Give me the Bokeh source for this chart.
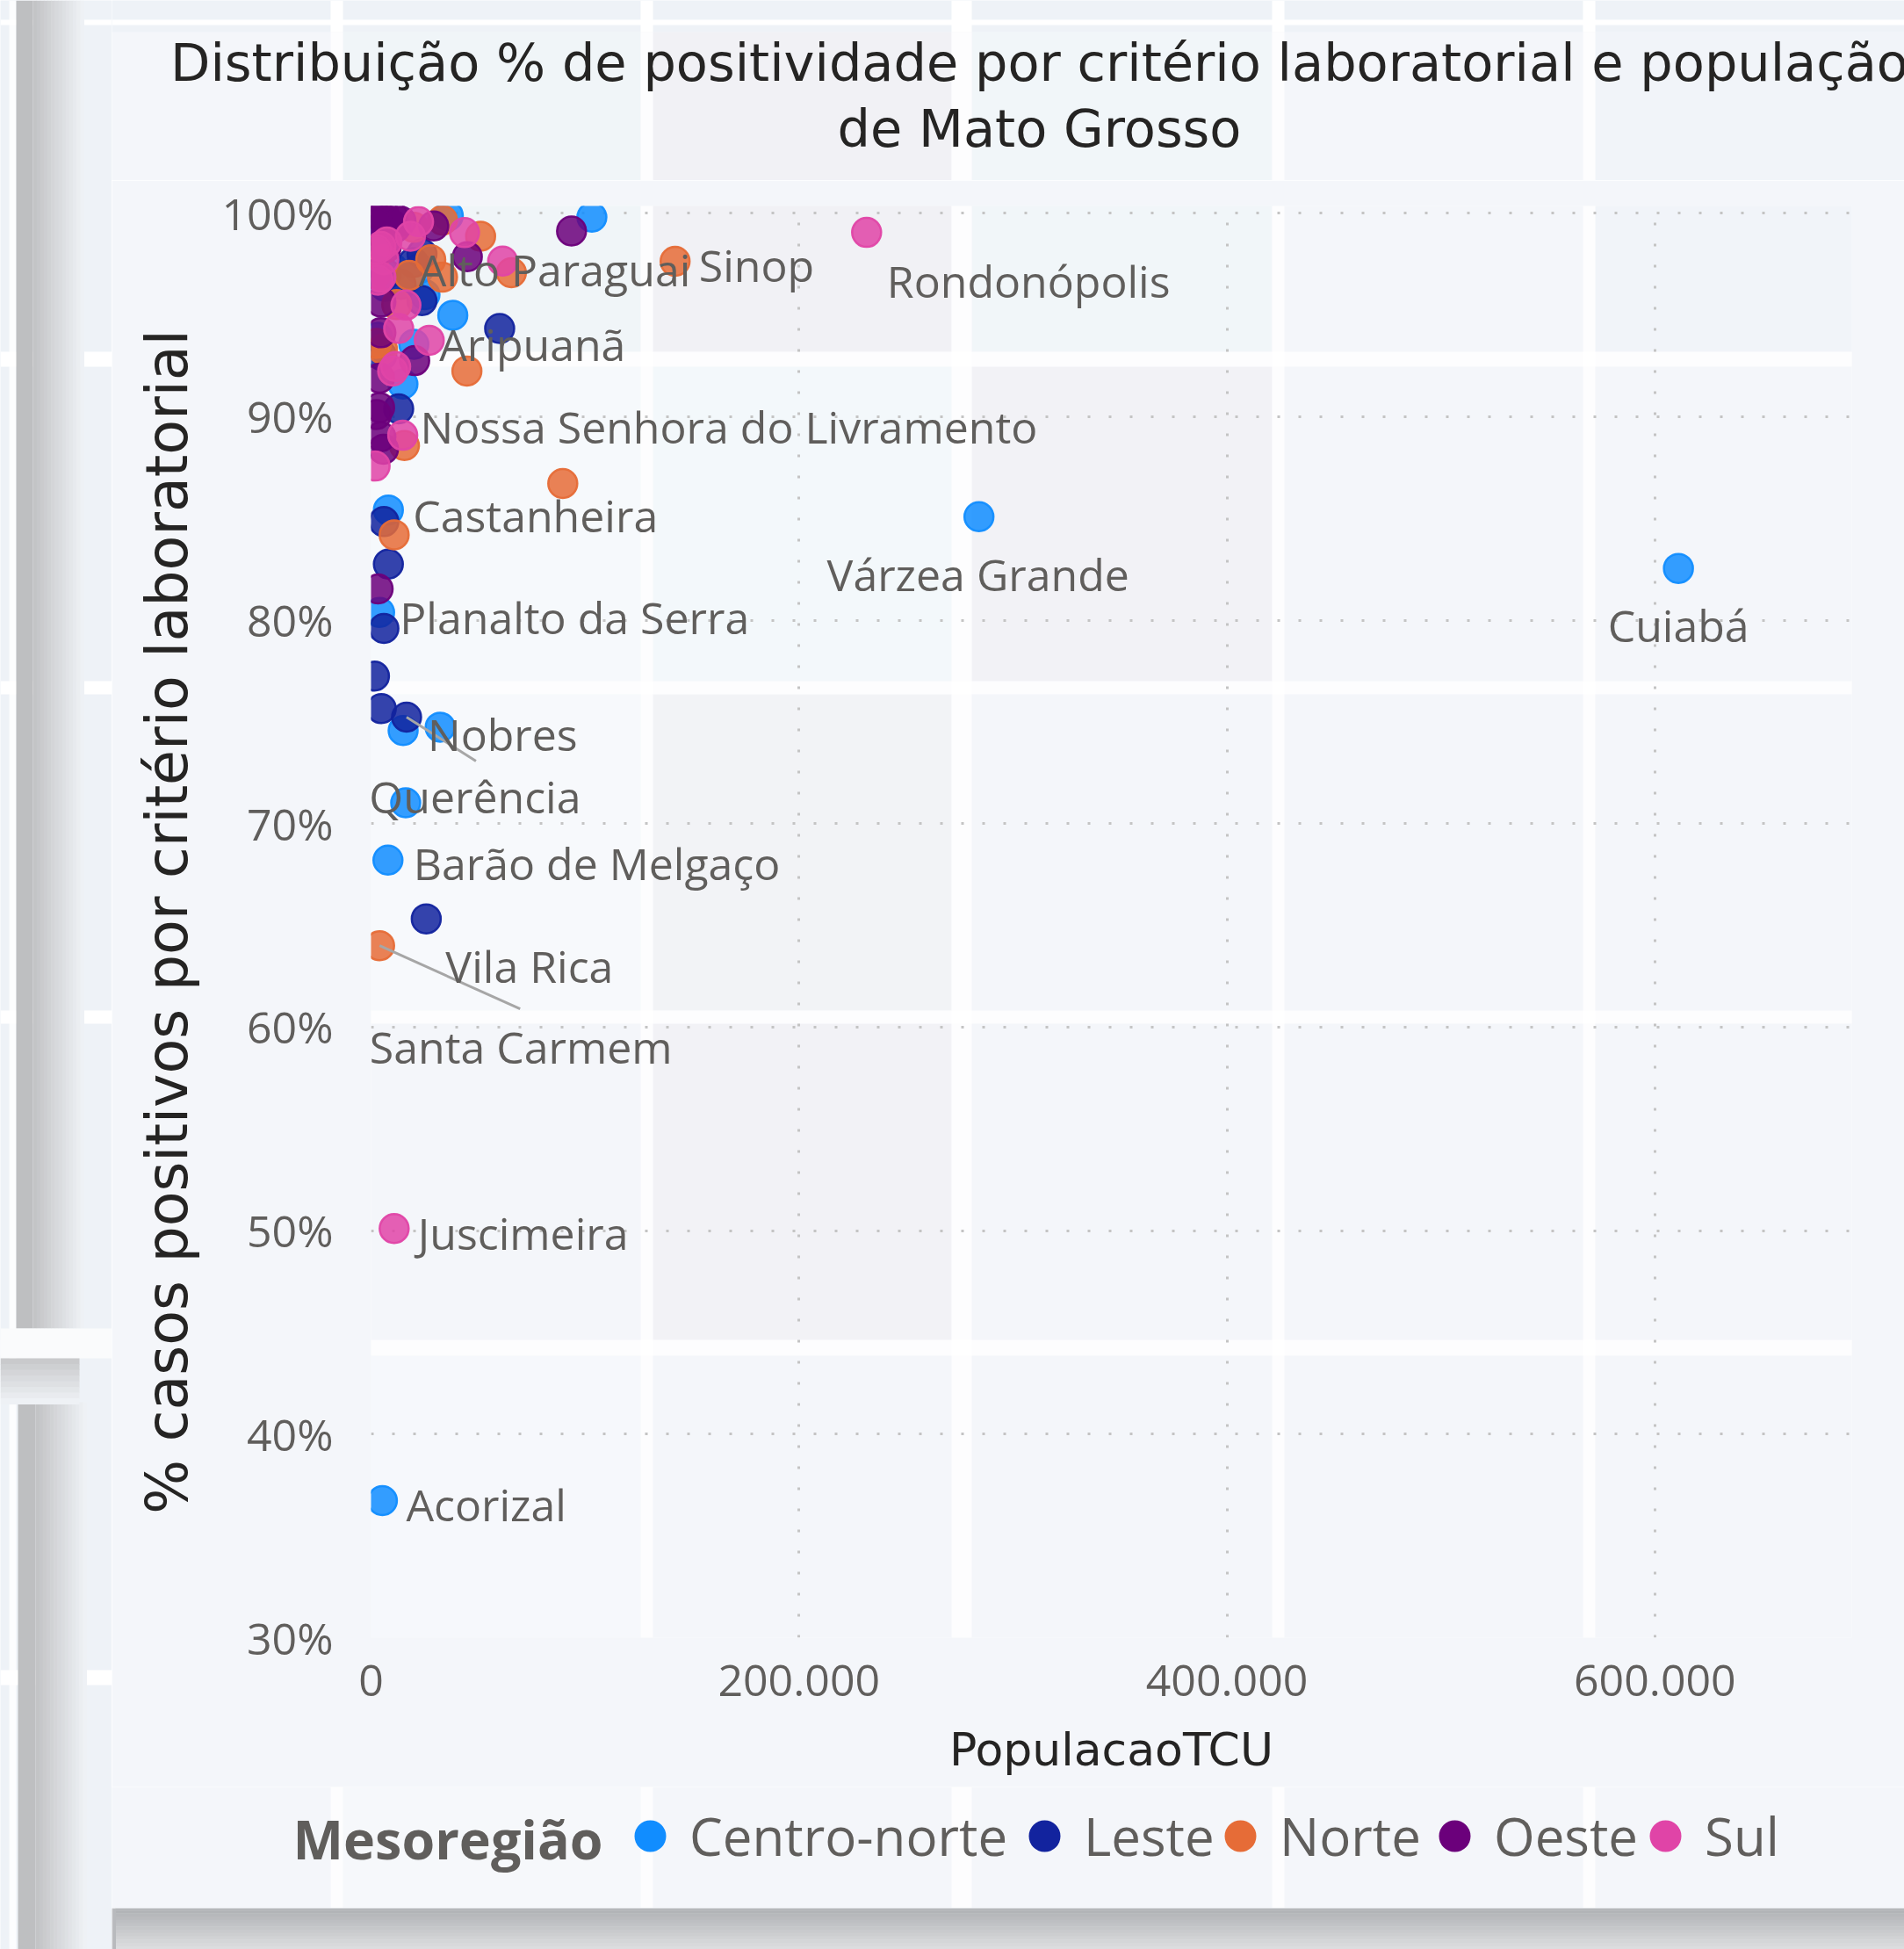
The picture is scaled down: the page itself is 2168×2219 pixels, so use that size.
from bokeh.plotting import figure
from bokeh.layouts import row, column
from bokeh.models import (Range1d, FixedTicker, PrintfTickFormatter, CustomJSTickFormatter,
                          ColumnDataSource, Legend, LegendItem, Label, BoxAnnotation)
from bokeh.core.properties import value
from bokeh.embed import file_html
from bokeh.resources import INLINE

# ---------------- data ----------------
regioes = ["Centro-norte", "Leste", "Norte", "Oeste", "Sul"]
cores = ["#118DFF", "#12239E", "#E66C37", "#6B007B", "#E044A7"]

cn_nome = ["Cuiabá", "Várzea Grande", "", "", "Alto Paraguai", "", "", "", "Aripuanã", "",
           "Castanheira", "Planalto da Serra", "Nobres", "", "", "Barão de Melgaço", "Acorizal",
           "", "", "", "", ""]
cn_pop = [611000, 284100, 103200, 36100, 10000, 22500, 25200, 38200, 20000, 14900,
          8100, 4000, 15000, 32300, 16200, 7900, 5300,
          2000, 6500, 3000, 9000, 18000]
cn_pct = [82.54, 85.08, 99.80, 99.87, 97.30, 97.28, 95.99, 94.98, 93.55, 91.60,
          85.41, 80.38, 74.57, 74.74, 71.02, 68.21, 36.73,
          98.6, 96.4, 93.9, 99.5, 96.8]

le_nome = ["", "", "", "", "", "", "", "", "", "", "Querência", "Vila Rica", "", "", "", ""]
le_pop = [23800, 19700, 23800, 60100, 12900, 6000, 8100, 6000, 1600, 4800, 16600, 25800,
          3000, 7000, 5000, 14000]
le_pct = [98.00, 97.57, 95.70, 94.33, 90.38, 84.84, 82.75, 79.59, 77.25, 75.65, 75.23, 65.32,
          99.2, 97.0, 93.0, 96.5]

no_nome = ["Sinop", "", "", "", "", "", "", "", "", "", "", "Santa Carmem", "", "", "", "", "", ""]
no_pop = [142100, 89600, 51200, 33400, 33400, 65600, 27900, 44800, 5300, 15600, 10800, 4000,
          17800, 2500, 8000, 12000, 2500, 20000]
no_pct = [97.63, 86.71, 98.86, 99.65, 96.85, 97.07, 97.71, 92.24, 93.32, 88.58, 84.19, 64.00,
          96.94, 98.0, 99.6, 95.5, 93.6, 99.3]

oe_nome = [""] * 22
oe_pop = [93700, 29300, 45000, 4500, 11500, 1200, 1500, 6000, 10000, 14000, 3000,
          4600, 4600, 20400, 4000, 4000, 4600, 3300, 2500, 5800, 2000, 7000]
oe_pct = [99.12, 99.37, 97.86, 99.87, 99.31, 99.15, 100.0, 100.0, 99.9, 99.6, 99.5,
          95.63, 94.12, 92.75, 91.89, 90.45, 89.01, 81.53, 90.1, 88.4, 97.0, 98.3]

su_nome = ["Rondonópolis", "", "", "", "", "", "", "", "", "", "", "", "", "",
           "Nossa Senhora do Livramento", "Juscimeira", "", "", ""]
su_pop = [231600, 43700, 22200, 7400, 18400, 6000, 4600, 61500, 27200, 12900, 16300, 11500,
          10100, 1900, 14800, 10800, 4600, 3300, 2500]
su_pct = [99.05, 99.04, 99.58, 98.58, 98.86, 97.71, 96.85, 97.64, 93.75, 94.33, 95.48, 92.46,
          92.24, 87.57, 89.08, 50.10, 98.36, 96.70, 98.2]

x_ticks = [0, 200000, 400000, 600000]
y_ticks = [30, 40, 50, 60, 70, 80, 90, 100]

titulo = ["Distribuição % de positividade por critério laboratorial e população",
          "de Mato Grosso"]
legenda_titulo = "Mesoregião"
eixo_x = "PopulacaoTCU"
eixo_y = "% casos positivos por critério laboratorial"

# ---------------- page layout (px) ----------------
PW, PH = 2168, 2219
LW = 127                      # left strip figure width
CW = PW - LW                  # content column width
HH, MH = 205, 1829            # header / main heights
SHY = 2172                    # top of bottom shadow
GH = SHY - HH - MH            # legend height
SH = PH - SHY                 # shadow height
LGY = HH + MH                 # legend top (page)
FL, FR, FT, FB = 422, 2108, 234, 1864          # frame in page px
X0, X1, Y0, Y1 = 0, 692000, 30, 100.35
PXX = (FR - FL) / (X1 - X0)
PXY = (FB - FT) / (Y1 - Y0)

CARD = "#f4f6fa"
OUTER = "#eef2f7"
GAPS_X = [(376, 390), (729, 743), (1083, 1106), (1448, 1462), (1802, 1816)]
GAPS_Y = [(400, 417), (775, 790), (1150, 1165), (1525, 1543), (1901, 1918)]
TILES = [(390, 729, 36, 400, "#f0f5f8"), (743, 1083, 36, 400, "#f1f1f5"),
         (1106, 1448, 36, 400, "#f1f6f9"), (1816, 2168, 36, 400, "#f1f4f9"),
         (390, 729, 417, 775, "#f6f9fc"), (743, 1083, 417, 775, "#f3f8fb"),
         (1106, 1448, 417, 775, "#f2f2f6"), (390, 729, 790, 1150, "#f7f9fc"),
         (743, 1083, 790, 1150, "#f2f3f6"), (743, 1083, 1165, 1525, "#f2f2f6"),
         (390, 729, 1543, 1901, "#f6f8fc"), (390, 729, 1918, 2172, "#f6f8fb")]
LEG_CX = [740, 1189, 1412, 1656, 1896]   # legend swatch centres (page px)
LEG_CY = 2090
LEG_G = 90                                 # legend glyph box

ROT = {
    "Cuiabá": ("center", 0, 65, None),
    "Várzea Grande": ("center", -1, 66, None),
    "Rondonópolis": ("left", 23, 55, None),
    "Sinop": ("left", 27, 4, None),
    "Alto Paraguai": ("left", 30, 2, None),
    "Aripuanã": ("left", 29, 0, None),
    "Nossa Senhora do Livramento": ("left", 20, -10, None),
    "Castanheira": ("left", 28, 6, None),
    "Planalto da Serra": ("left", 23, 6, None),
    "Nobres": ("left", 28, 4, None),
    "Querência": ("center", 78, 90, (79, 50)),
    "Barão de Melgaço": ("left", 29, 4, None),
    "Vila Rica": ("left", 22, 54, None),
    "Santa Carmem": ("center", 161, 115, (160, 72)),
    "Juscimeira": ("left", 27, 5, None),
    "Acorizal": ("left", 27, 4, None),
}


def no_align(f):
    if "frame_align" in f.properties():
        f.frame_align = False
    return f


def blank(w, h, color):
    f = figure(width=w, height=h, x_range=Range1d(0, w), y_range=Range1d(h, 0),
               x_axis_type=None, y_axis_type=None, toolbar_location=None,
               output_backend="svg", min_border=0, title=None)
    f.outline_line_color = None
    f.border_fill_color = color
    f.background_fill_color = color
    return no_align(f)


def rect(f, x0, x1, y0, y1, color, alpha=1.0):
    f.quad(left=x0, right=x1, top=y0, bottom=y1, fill_color=color, fill_alpha=alpha,
           line_color=None)


def _hex(c):
    return tuple(int(c[i:i + 2], 16) for i in (1, 3, 5))


def gradient(f, x0, x1, y0, y1, c0, c1, n, horizontal=True):
    a, b = _hex(c0), _hex(c1)
    for i in range(n):
        t = i / max(n - 1, 1)
        col = "#%02x%02x%02x" % tuple(round(a[k] + (b[k] - a[k]) * t) for k in range(3))
        if horizontal:
            s0 = x0 + (x1 - x0) * i / n
            s1 = x0 + (x1 - x0) * (i + 1) / n
            rect(f, s0, s1 + 0.5, y0, y1, col)
        else:
            s0 = y0 + (y1 - y0) * i / n
            s1 = y0 + (y1 - y0) * (i + 1) / n
            rect(f, x0, x1, s0, s1 + 0.5, col)


def tiles(f, ox, oy, y0c, y1c):
    for x0, x1, y0, y1, col in TILES:
        a, b = max(y0, y0c), min(y1, y1c)
        if a < b:
            rect(f, x0 - ox, x1 - ox, a - oy, b - oy, col)


def vgaps(f, ox, y0, y1, alpha):
    for a, b in GAPS_X:
        rect(f, a - ox, b - ox, y0, y1, "#ffffff", alpha)


# ---------------- left strip (background shadow) ----------------
left = blank(LW, PH, OUTER)
for a, b in GAPS_Y:
    rect(left, 0, LW, a, b, "#ffffff")
rect(left, 0, LW, 22, 28, "#ffffff")
rect(left, 10, 18, 0, PH, "#ffffff", 0.8)
rect(left, 18, 37, 0, 1512, "#bebfc1")
gradient(left, 37, 95, 0, 1512, "#c3c4c6", "#eef1f5", 14)
rect(left, 20, 40, 1596, PH, "#bebfc1")
gradient(left, 40, 98, 1596, PH, "#c3c4c6", "#eef1f5", 14)
rect(left, 0, LW, 1512, 1546, "#fafbfc")
gradient(left, 0, 90, 1546, 1598, "#c9cacc", "#eef1f5", 8, horizontal=False)

# ---------------- header (title) ----------------
head = blank(CW, HH, CARD)
rect(head, 0, CW, 0, 36, OUTER)
tiles(head, LW, 0, 36, HH)
vgaps(head, LW, 0, 36, 1.0)
vgaps(head, LW, 36, HH, 0.8)
rect(head, 0, CW, 22, 28, "#ffffff")
for txt, yy in zip(titulo, [71, 146]):
    head.add_layout(Label(x=1183 - LW, y=yy, text=txt, text_align="center",
                          text_baseline="middle", text_font="DejaVu Sans",
                          text_font_size="59px", text_color="#252423"))

# ---------------- main scatter ----------------
p = figure(width=CW, height=MH, x_range=Range1d(X0, X1), y_range=Range1d(Y0, Y1),
           output_backend="svg", toolbar_location=None, title=None,
           min_border_left=FL - LW, min_border_right=PW - FR,
           min_border_top=FT - HH, min_border_bottom=HH + MH - FB)
no_align(p)
p.border_fill_color = CARD
p.background_fill_color = CARD
p.outline_line_color = None


def dx_(px):
    return (px - FL) / PXX


def dy_(py):
    return Y1 - (py - FT) / PXY


# background tiles & gaps under the grid (underlay, placed before the grids)
under = []
for x0, x1, y0, y1, col in TILES:
    under.append(BoxAnnotation(left=dx_(x0), right=dx_(x1), top=dy_(y0), bottom=dy_(y1),
                               fill_color=col, fill_alpha=1.0, line_color=None,
                               level="underlay"))
for a, b in GAPS_X:
    if FL < a < FR:
        under.append(BoxAnnotation(left=dx_(a), right=dx_(b), top=Y1 + 1, bottom=Y0 - 1,
                                   fill_color="#ffffff", fill_alpha=0.8, line_color=None,
                                   level="underlay"))
for a, b in GAPS_Y:
    if FT < a < FB:
        under.append(BoxAnnotation(left=X0 - 1000, right=X1 + 1000, top=dy_(a), bottom=dy_(b),
                                   fill_color="#ffffff", fill_alpha=0.8, line_color=None,
                                   level="underlay"))
p.center = under + list(p.center)

p.xaxis.ticker = FixedTicker(ticks=x_ticks)
p.yaxis.ticker = FixedTicker(ticks=y_ticks)
p.xaxis.formatter = CustomJSTickFormatter(
    code=r"return tick.toFixed(0).replace(/\B(?=(\d{3})+(?!\d))/g, '.');")
p.yaxis.formatter = PrintfTickFormatter(format="%d%%")
for ax in (p.xaxis[0], p.yaxis[0]):
    ax.axis_line_color = None
    ax.major_tick_line_color = None
    ax.minor_tick_line_color = None
    ax.major_tick_out = 0
    ax.major_tick_in = 0
    ax.major_label_text_font = "Open Sans"
    ax.major_label_text_font_size = "50px"
    ax.major_label_text_color = "#605E5C"
    ax.axis_label_text_font = "DejaVu Sans"
    ax.axis_label_text_font_style = "normal"
    ax.axis_label_text_color = "#252423"
p.yaxis.axis_label = eixo_y
p.yaxis.axis_label_text_font_size = "65px"
p.yaxis.major_label_standoff = 43
p.yaxis.axis_label_standoff = 21
p.xaxis.axis_label = eixo_x
p.xaxis.axis_label_text_font_size = "52px"
p.xaxis.major_label_standoff = 31
p.xaxis.axis_label_standoff = 28

p.grid.grid_line_color = "#c4c4c4"
p.grid.grid_line_width = 3
p.grid.grid_line_dash = "3 21"

series = [(cn_nome, cn_pop, cn_pct), (le_nome, le_pop, le_pct), (no_nome, no_pop, no_pct),
          (oe_nome, oe_pop, oe_pct), (su_nome, su_pop, su_pct)]
lab = {"left": dict(x=[], y=[], t=[], dx=[], dy=[]),
       "center": dict(x=[], y=[], t=[], dx=[], dy=[])}
lead = dict(x0=[], y0=[], x1=[], y1=[])
for reg, cor, (nomes, pops, pcts) in zip(regioes, cores, series):
    src = ColumnDataSource(dict(pop=pops, pct=pcts))
    p.scatter("pop", "pct", source=src, marker="circle", size=33,
              fill_color=cor, fill_alpha=0.85, line_color=cor, line_alpha=0.95, line_width=2.5)
    for n, x, y in zip(nomes, pops, pcts):
        if n and n in ROT:
            al, dx, dy, ld = ROT[n]
            d = lab[al]
            d["x"].append(x); d["y"].append(y); d["t"].append(n)
            d["dx"].append(dx); d["dy"].append(dy)
            if ld is not None:
                lead["x0"].append(x); lead["y0"].append(y)
                lead["x1"].append(x + ld[0] / PXX); lead["y1"].append(y - ld[1] / PXY)

p.segment("x0", "y0", "x1", "y1", source=ColumnDataSource(lead),
          line_color="#a6a6a6", line_width=3)
for al, d in lab.items():
    p.text("x", "y", text="t", x_offset="dx", y_offset="dy", source=ColumnDataSource(d),
           text_align=al, text_baseline="middle", text_font=value("Open Sans"),
           text_font_size="50px", text_color="#605E5C")

# ---------------- legend ----------------
leg = blank(CW, GH, CARD)
tiles(leg, LW, LGY, LGY, SHY)
vgaps(leg, LW, 0, GH, 0.8)
gy_bottom = GH - (LEG_CY - LGY + LEG_G / 2)
for reg, cor, cx in zip(regioes, cores, LEG_CX):
    # legend proxy: one point kept off-canvas so the legend can draw its swatch
    r = leg.scatter(x=[-100], y=[-100], marker="circle", size=10, fill_color=cor,
                    line_color=None)
    leg.add_layout(Legend(items=[LegendItem(label=reg, renderers=[r])],
                          location=(cx - LEG_G / 2 - LW, gy_bottom), orientation="horizontal",
                          glyph_width=LEG_G, glyph_height=LEG_G, label_standoff=0,
                          padding=0, margin=0, border_line_color=None,
                          background_fill_alpha=0,
                          label_text_font="Open Sans", label_text_font_size="60px",
                          label_text_color="#605E5C"))
leg.add_layout(Label(x=333 - LW, y=2093 - LGY, text=legenda_titulo,
                     text_font="Open Sans", text_font_style="bold", text_font_size="61px",
                     text_color="#605E5C", text_baseline="middle", text_align="left"))

# ---------------- bottom shadow ----------------
sh = blank(CW, SH, CARD)
rect(sh, 131 - LW, CW, 0, 2, "#a9abae")
gradient(sh, 131 - LW, CW, 2, SH, "#b2b4b7", "#dcdddf", 12, horizontal=False)
gradient(sh, 118 - LW, 131 - LW, 0, SH, "#e4e6e9", "#b8babd", 4)

layout = row(left, column(head, p, leg, sh, spacing=0), spacing=0)
open("out.html", "w").write(file_html(layout, INLINE))
